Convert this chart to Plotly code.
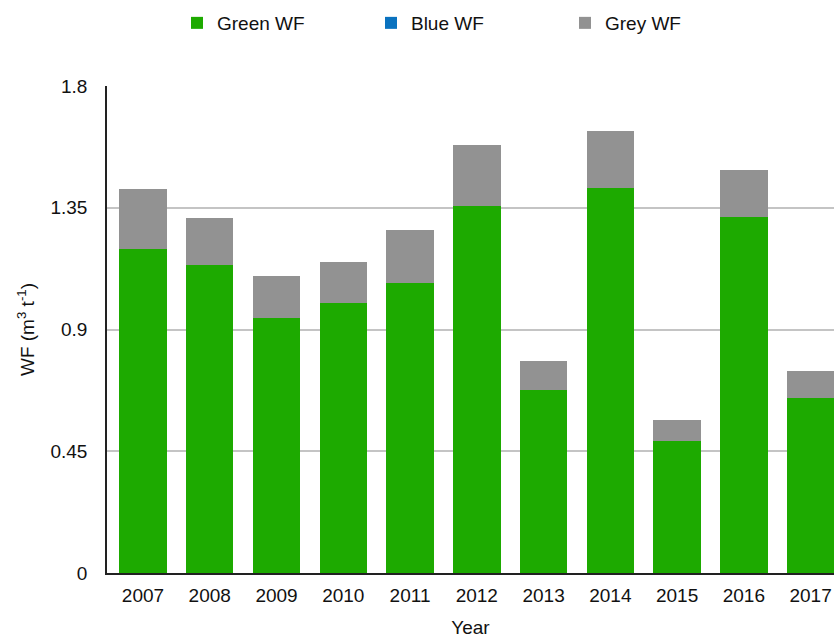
import plotly.graph_objects as go

years = ["2007", "2008", "2009", "2010", "2011", "2012", "2013", "2014", "2015", "2016", "2017"]
green_wf = [1.197, 1.138, 0.941, 0.999, 1.073, 1.358, 0.676, 1.424, 0.487, 1.316, 0.647]
blue_wf = [0.0, 0.0, 0.0, 0.0, 0.0, 0.0, 0.0, 0.0, 0.0, 0.0, 0.0]
grey_wf = [0.222, 0.175, 0.158, 0.152, 0.195, 0.223, 0.108, 0.210, 0.078, 0.173, 0.101]
y_ticks = [0, 0.45, 0.9, 1.35, 1.8]
y_tick_labels = ["0", "0.45", "0.9", "1.35", "1.8"]

font_family = "Liberation Sans, Arial, sans-serif"

fig = go.Figure()
fig.add_trace(go.Bar(x=years, y=green_wf, name="Green WF", marker=dict(color="#1daa00", line=dict(width=0))))
fig.add_trace(go.Bar(x=years, y=blue_wf, name="Blue WF", marker=dict(color="#0a72bf", line=dict(width=0))))
fig.add_trace(go.Bar(x=years, y=grey_wf, name="Grey WF", marker=dict(color="#929292", line=dict(width=0))))

fig.update_layout(
    barmode="stack",
    bargap=0.29,
    width=834,
    height=641,
    margin=dict(l=107, r=0, t=86, b=68, autoexpand=False),
    paper_bgcolor="white",
    plot_bgcolor="white",
    font=dict(family=font_family, size=19, color="#111111"),
    showlegend=True,
    legend=dict(
        orientation="h",
        xref="container",
        x=0.2122, xanchor="left",
        yref="container",
        y=0.9641, yanchor="middle",
        entrywidth=149,
        entrywidthmode="pixels",
        font=dict(size=19, color="#111111"),
        traceorder="normal",
    ),
    xaxis=dict(
        type="category",
        range=[-0.539, 10.35],
        showline=True,
        linecolor="#222222",
        linewidth=1.5,
        ticks="",
        showgrid=False,
        automargin=False,
        tickfont=dict(size=19),
        ticklabelstandoff=4,
        title=dict(text="Year", font=dict(size=19), standoff=16),
        fixedrange=True,
    ),
    yaxis=dict(
        range=[0, 1.8],
        tickvals=y_ticks,
        ticktext=y_tick_labels,
        showline=True,
        linecolor="#222222",
        linewidth=1.5,
        ticks="",
        showgrid=True,
        gridcolor="#c4c4c4",
        gridwidth=1.5,
        zeroline=False,
        automargin=False,
        tickfont=dict(size=19),
        ticklabelstandoff=14,
        title=dict(text="WF (m<sup>3</sup> t<sup>-1</sup>)", font=dict(size=19), standoff=11),
    ),
)

fig.write_html(
    "out.html",
    config={"displayModeBar": False},
    post_script="document.body.style.margin='0';document.body.style.overflow='hidden';",
)
